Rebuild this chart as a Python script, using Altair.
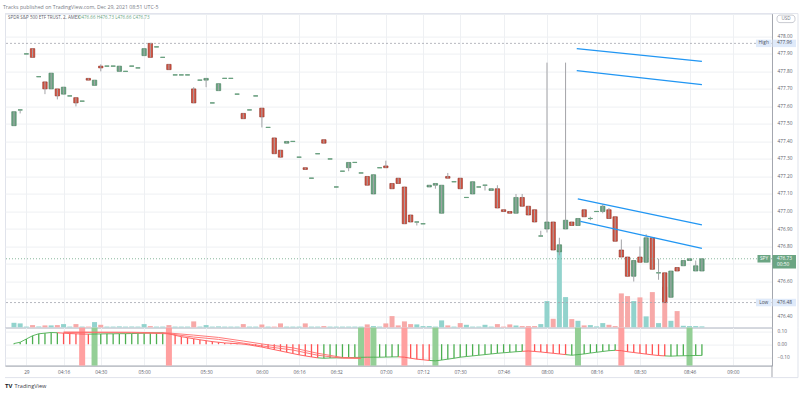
import altair as alt
import pandas as pd

# ---------------- data ----------------
opens = [477.49, 477.58, 477.90, 477.93, 477.77, 477.74, 477.70, 477.70, 477.67, 477.66,
         477.65, 477.63, 477.76, 477.72, 477.83, 477.83, 477.83, 477.80, 477.80, 477.83,
         477.82, 477.89, 477.96, 477.94, 477.88, 477.84, 477.78, 477.78, 477.78, 477.70,
         477.75, 477.75, 477.62, 477.69, 477.76, 477.76, 477.67, 477.56, 477.58, 477.66,
         477.59, 477.48, 477.42, 477.35, 477.39, 477.40, 477.31, 477.25, 477.19, 477.33,
         477.41, 477.30, 477.14, 477.23, 477.25, 477.28, 477.22, 477.20, 477.10, 477.25,
         477.26, 477.16, 477.19, 477.14, 476.98, 476.94, 476.93, 477.14, 477.15, 476.99,
         477.20, 477.17, 477.19, 477.08, 477.10, 477.14, 477.15, 477.12, 477.13, 477.01,
         477.00, 476.99, 477.08, 477.03, 477.01, 476.86, 476.90, 476.94, 476.77, 476.90,
         476.94, 476.92, 477.01, 476.96, 477.00, 477.00, 477.01, 476.97, 476.78, 476.74,
         476.63, 476.74, 476.71, 476.85, 476.65, 476.65, 476.51, 476.68, 476.69, 476.72,
         476.66, 476.66]
closes = [477.57, 477.58, 477.90, 477.88, 477.77, 477.70, 477.79, 477.66, 477.71, 477.66,
          477.62, 477.63, 477.75, 477.75, 477.82, 477.83, 477.83, 477.83, 477.80, 477.83,
          477.82, 477.93, 477.88, 477.94, 477.88, 477.81, 477.78, 477.78, 477.78, 477.62,
          477.75, 477.76, 477.62, 477.73, 477.76, 477.76, 477.67, 477.53, 477.58, 477.66,
          477.54, 477.48, 477.33, 477.31, 477.40, 477.40, 477.31, 477.24, 477.19, 477.33,
          477.39, 477.30, 477.14, 477.23, 477.28, 477.28, 477.22, 477.15, 477.21, 477.25,
          477.25, 477.13, 477.16, 476.93, 476.94, 476.94, 476.93, 477.15, 477.16, 477.15,
          477.19, 477.17, 477.13, 477.08, 477.17, 477.14, 477.15, 477.13, 477.02, 477.00,
          476.99, 477.08, 477.03, 476.98, 476.94, 476.86, 476.94, 476.78, 476.81, 476.95,
          476.92, 476.96, 476.97, 476.96, 477.00, 477.03, 476.96, 476.83, 476.74, 476.63,
          476.72, 476.71, 476.85, 476.67, 476.65, 476.48, 476.66, 476.66, 476.72, 476.73,
          476.69, 476.73]
wick_highs = {15: 477.84, 23: 477.96, 30: 477.71, 61: 477.29, 71: 477.22, 79: 477.15,
              82: 477.10, 83: 477.10, 86: 476.89, 87: 477.85, 89: 476.85, 90: 477.85,
              94: 476.97, 96: 477.04, 97: 477.02, 99: 476.84, 102: 476.80, 103: 476.87,
              105: 476.73, 111: 476.72}
wick_lows = {2: 477.56, 6: 477.67, 8: 477.64, 11: 477.60, 15: 477.80, 32: 477.71,
             41: 477.48, 55: 477.23, 66: 476.92, 69: 477.13, 77: 477.12, 87: 476.88,
             89: 476.75, 94: 476.95, 96: 476.99, 101: 476.60, 105: 476.61}
volumes = [4.8, 4.2, 1, 2.5, 1, 2.2, 2.2, 2.5, 3.5, 1,
           3.5, 1, 1, 5.5, 2.8, 1, 1, 1.2, 1, 1,
           1, 3.5, 1.5, 1, 1, 2.5, 1, 1, 1, 6.2,
           1, 2.5, 1, 1.2, 1, 1, 1, 3.5, 1, 1,
           3.2, 1, 1, 4.2, 1, 1, 1, 4.2, 1, 1,
           1.5, 1, 1, 1, 1, 1, 1, 3.2, 1.5, 1,
           4.2, 11.5, 2.2, 6.2, 3.5, 3.2, 1.5, 1.5, 1, 7.2,
           2.2, 1, 4.5, 2.8, 1, 1, 2.8, 1, 3.5, 1,
           3.2, 2, 1.5, 1.5, 1.5, 3.5, 26.5, 8.8, 77.5, 30.5,
           8.5, 6.8, 2.2, 2.5, 1.2, 4.5, 2.8, 1.5, 34.2, 31.5,
           26.5, 30.2, 11.2, 35.5, 4.5, 40.8, 6.8, 16.5, 1.8, 1.5,
           1.5, 1.2]
osc = [0.005, 0.015, 0.04, 0.065, 0.08, 0.085, 0.09, 0.088, 0.085, 0.082,
       0.08, 0.078, 0.077, 0.078, 0.079, 0.08, 0.08, 0.081, 0.081, 0.082,
       0.083, 0.085, 0.087, 0.087, 0.088, 0.08, 0.068, 0.058, 0.05, 0.042,
       0.034, 0.027, 0.02, 0.015, 0.01, 0.007, 0.004, 0.001, -0.006, -0.014,
       -0.022, -0.032, -0.042, -0.052, -0.062, -0.072, -0.082, -0.09, -0.098, -0.105,
       -0.108, -0.106, -0.105, -0.104, -0.103, -0.102, -0.101, -0.1, -0.1, -0.1,
       -0.099, -0.098, -0.097, -0.1, -0.108, -0.115, -0.12, -0.125, -0.128, -0.122,
       -0.115, -0.108, -0.1, -0.095, -0.09, -0.085, -0.08, -0.075, -0.07, -0.066,
       -0.062, -0.058, -0.055, -0.052, -0.056, -0.06, -0.065, -0.07, -0.075, -0.08,
       -0.085, -0.08, -0.075, -0.068, -0.062, -0.056, -0.05, -0.047, -0.05, -0.058,
       -0.064, -0.07, -0.076, -0.082, -0.087, -0.09, -0.092, -0.09, -0.089, -0.088,
       -0.087, -0.086]
osc_dir = ("GGGGGGGG" "RRRRR" "GGGGGGGGGGGG" "RRRRRRRRRRRRRRRRRRRRRRRRR"
           "GGGGGGGGGGGGG" "RRRRR" "GGGGGGGGGGGGGGG" "RRRRRRR" "GGGGGGGG"
           "RRRRRRRR" "GGGGGG")
signal_idx = [9, 14, 20, 26, 30, 34, 38, 42, 46, 50, 54, 57]
signal_a = [0.094, 0.093, 0.092, 0.086, 0.07, 0.052, 0.024, -0.005, -0.028, -0.07, -0.102, -0.106]
signal_b = [0.09, 0.089, 0.088, 0.08, 0.055, 0.037, 0.008, -0.02, -0.045, -0.085, -0.108, -0.11]
band_idx = [12, 14, 26, 57, 58, 59, 64, 69, 84, 92, 99, 110]
band_dir = ["R", "G", "R", "G", "R", "G", "R", "G", "R", "G", "R", "G"]
trend_x1 = [91.8, 91.8, 91.97, 92.4]
trend_x2 = [112.0, 112.0, 112.0, 112.0]
trend_p1 = [477.93, 477.804, 477.072, 476.944]
trend_p2 = [477.857, 477.724, 476.924, 476.79]
tick_idx = [3, 9, 15, 22, 32, 41, 47, 53, 61, 67, 73, 80, 87, 95, 102, 110, 117]
tick_lbl = ["29", "04:16", "04:30", "05:00", "05:30", "06:00", "06:16", "06:32", "07:00",
            "07:12", "07:30", "07:46", "08:00", "08:16", "08:30", "08:46", "09:00"]
price_ticks = [476.4, 476.5, 476.6, 476.7, 476.8, 476.9, 477.0, 477.1, 477.2, 477.3,
               477.4, 477.5, 477.6, 477.7, 477.8, 477.9, 478.0]
hidden_ticks = [476.5, 476.7]   # covered by the Low / SPY price tags
osc_ticks = [-0.1, 0.0, 0.1]
high_price, low_price, last_price = 477.96, 476.48, 476.73

# ---------------- frames ----------------
n = len(opens)
idx = list(range(1, n + 1))
df = pd.DataFrame({
    "idx": idx, "open": opens, "close": closes,
    "high": [max(o, c, wick_highs.get(i, o)) for i, o, c in zip(idx, opens, closes)],
    "low": [min(o, c, wick_lows.get(i, o)) for i, o, c in zip(idx, opens, closes)],
    "vol": volumes, "osc": osc, "dir": list(osc_dir),
})
sig = pd.DataFrame({"idx": signal_idx * 2, "v": signal_a + signal_b,
                    "s": ["a"] * len(signal_idx) + ["b"] * len(signal_idx)})
bands = pd.DataFrame({"idx": band_idx, "dir": band_dir})
trend = pd.DataFrame({"x1": trend_x1, "x2": trend_x2, "p1": trend_p1, "p2": trend_p2})
one = pd.DataFrame({"a": [0]})

W, HP, HO = 767, 314, 38
FONT = "Open Sans"
xs = alt.Scale(domain=[0.36, 122.5], nice=False, zero=False)
ps = alt.Scale(domain=[476.337, 478.13], nice=False, zero=False)
oscs = alt.Scale(domain=[-0.1646, 0.1277], nice=False, zero=False)
UP, DN = "#6ba583", "#d75442"
is_up = "datum.close >= datum.open"

hide_expr = " || ".join(f"abs(datum.value - {v}) < 0.001" for v in hidden_ticks)
PRICE_AXIS = alt.Axis(orient="right", values=price_ticks, labelPadding=5, ticks=False,
                      domain=True, grid=True, labelOverlap=False, labelFlush=False,
                      labelBound=False,
                      labelExpr=f"({hide_expr}) ? '' : format(datum.value, '.2f')")

X = alt.X("idx:Q", scale=xs, title=None,
          axis=alt.Axis(values=tick_idx, labels=False, ticks=False, domain=True,
                        domainColor="#a3a6af", grid=True))

# ---------------- price pane ----------------
vol = alt.Chart(df).mark_bar(size=5).encode(
    x=X, y=alt.Y("vol:Q", scale=alt.Scale(domain=[0, 314], nice=False), axis=None),
    color=alt.condition(is_up, alt.value("#92d3cd"), alt.value("#f7a9a8")))

levels = alt.Chart(pd.DataFrame({"p": [high_price, low_price]})).mark_rule(
    color="#a3a6af", strokeWidth=0.8, strokeDash=[2, 2]).encode(
    y=alt.Y("p:Q", scale=ps, title=None, axis=PRICE_AXIS))
lastline = alt.Chart(pd.DataFrame({"p": [last_price]})).mark_rule(
    color=UP, strokeWidth=0.8, strokeDash=[1, 2]).encode(
    y=alt.Y("p:Q", scale=ps, title=None, axis=PRICE_AXIS))

wicks = alt.Chart(df).mark_rule(color="#a4a4a8", strokeWidth=1).encode(
    x=alt.X("idx:Q", scale=xs, title=None),
    y=alt.Y("low:Q", scale=ps, title=None, axis=PRICE_AXIS), y2="high:Q")

bodies = alt.Chart(df).mark_bar(size=4.4, strokeWidth=0.6).encode(
    x=alt.X("idx:Q", scale=xs, title=None),
    y=alt.Y("open:Q", scale=ps, title=None, axis=PRICE_AXIS),
    y2="close:Q",
    fill=alt.condition(is_up, alt.value(UP), alt.value(DN)),
    stroke=alt.condition(is_up, alt.value("#3f7a58"), alt.value("#8a2a1e")))

dojis = alt.Chart(df).transform_filter("datum.open == datum.close").mark_tick(
    orient="horizontal", size=4.4, thickness=1.2, opacity=0.75, color=UP).encode(
    x=alt.X("idx:Q", scale=xs, title=None),
    y=alt.Y("close:Q", scale=ps, title=None, axis=PRICE_AXIS))

trendlines = alt.Chart(trend).mark_rule(color="#2196f3", strokeWidth=1.3).encode(
    x=alt.X("x1:Q", scale=xs, title=None), x2="x2:Q",
    y=alt.Y("p1:Q", scale=ps, title=None, axis=PRICE_AXIS), y2="p2:Q")


def box(price, x1, x2, fill, h=7.5, yoff=0):
    return alt.Chart(pd.DataFrame({"p": [price]})).mark_rect(
        fill=fill, height=h, yOffset=yoff).encode(
        x=alt.value(x1), x2=alt.value(x2),
        y=alt.Y("p:Q", scale=ps, title=None, axis=PRICE_AXIS))


def label(price, x, txt, color, align="left", dy=0):
    return alt.Chart(pd.DataFrame({"p": [price]})).mark_text(
        text=txt, align=align, baseline="middle", fontSize=4.8, font=FONT,
        color=color, dy=dy).encode(
        x=alt.value(x), y=alt.Y("p:Q", scale=ps, title=None, axis=PRICE_AXIS))


LB = "#dfeafa"
tags = [
    box(high_price, 751, 766.5, LB), box(high_price, 767.5, 791, LB),
    label(high_price, 758.7, "High", "#4a4e5a", align="center"),
    label(high_price, 772, f"{high_price:.2f}", "#4a4e5a"),
    box(low_price, 751, 766.5, LB), box(low_price, 767.5, 791, LB),
    label(low_price, 758.7, "Low", "#4a4e5a", align="center"),
    label(low_price, 772, f"{low_price:.2f}", "#4a4e5a"),
    box(last_price, 752.5, 765.5, UP), box(last_price, 767.5, 791, UP, h=13.5, yoff=3),
    label(last_price, 759, "SPY", "white", align="center"),
    label(last_price, 772, f"{last_price:.2f}", "white"),
    label(last_price, 772, "00:50", "white", dy=6.3),
]

usd_box = alt.Chart(one).mark_rect(fill="white", stroke="#b2b5be", strokeWidth=0.7,
                                   cornerRadius=3).encode(
    x=alt.value(772), x2=alt.value(790), y=alt.value(1.5), y2=alt.value(9))
usd_txt = alt.Chart(one).mark_text(text="USD", fontSize=4.6, font=FONT, color="#787b86",
                                   align="center", baseline="middle").encode(
    x=alt.value(781), y=alt.value(5.3))

header = alt.Chart(one).mark_text(
    text="Tracks published on TradingView.com, Dec 29, 2021 08:51 UTC-5",
    fontSize=5.2, font=FONT, color="#787b86", align="left", baseline="middle").encode(
    x=alt.value(-2), y=alt.value(-7))
symbol = alt.Chart(one).mark_text(
    text="SPDR S&P 500 ETF TRUST, 2, AMEX", fontSize=4.5, font=FONT, color="#5d606b",
    align="left", baseline="middle").encode(x=alt.value(3), y=alt.value(4.3))
ohlc = alt.Chart(one).mark_text(
    text="O476.66  H476.73  L476.66  C476.73", fontSize=4.5, font=FONT, color=UP,
    align="left", baseline="middle").encode(x=alt.value(73), y=alt.value(4.3))

frame_p = alt.Chart(one).mark_rule(color="#e0e3eb", strokeWidth=1).encode(
    x=alt.value(0), x2=alt.value(793), y=alt.value(0))
frame_pr = alt.Chart(one).mark_rule(color="#e0e3eb", strokeWidth=1).encode(
    x=alt.value(793), y=alt.value(0), y2=alt.value(HP))

price_group = alt.layer(bodies, levels, lastline, wicks, dojis, trendlines, *tags,
                        usd_box, usd_txt, header, symbol, ohlc, frame_p, frame_pr)
price = alt.layer(vol, price_group).resolve_scale(y="independent").properties(
    width=W, height=HP)

# ---------------- oscillator pane ----------------
XO = alt.X("idx:Q", scale=xs, title=None,
           axis=alt.Axis(values=tick_idx, ticks=False, domain=True, domainColor="#a3a6af",
                         grid=True, labelPadding=3.5, labelOverlap=False, labelFlush=False,
                         labelExpr=f"{tick_lbl}[indexof({tick_idx}, datum.value)]"))
OSC_AXIS = alt.Axis(orient="right", values=osc_ticks, format=".2f", labelPadding=5,
                    ticks=False, domain=True, grid=True, labelOverlap=False,
                    labelFlush=False, labelBound=False)
is_g = "datum.dir == 'G'"

band_layer = alt.Chart(bands).mark_bar(size=6).encode(
    x=XO, y=alt.value(0), y2=alt.value(HO),
    color=alt.condition(is_g, alt.value("#94cf96"), alt.value("#ffa0a0")))

hist = alt.Chart(df).mark_rule(strokeWidth=1.3).encode(
    x=alt.X("idx:Q", scale=xs, title=None),
    y=alt.Y("osc:Q", scale=oscs, title=None, axis=OSC_AXIS),
    y2=alt.datum(0),
    color=alt.condition(is_g, alt.value("#4caf50"), alt.value("#ff5252")))

segs = alt.Chart(df).transform_window(
    prev_osc="lag(osc)", prev_idx="lag(idx)", sort=[alt.SortField("idx")]
).transform_filter("datum.prev_idx != null").mark_rule(strokeWidth=0.9).encode(
    x=alt.X("prev_idx:Q", scale=xs, title=None), x2="idx:Q",
    y=alt.Y("prev_osc:Q", scale=oscs, title=None, axis=OSC_AXIS), y2="osc:Q",
    color=alt.condition(is_g, alt.value("#4caf50"), alt.value("#ff5252")))

sig_lines = alt.Chart(sig).mark_line(color="#ff6b6b", strokeWidth=0.9).encode(
    x=alt.X("idx:Q", scale=xs, title=None),
    y=alt.Y("v:Q", scale=oscs, title=None, axis=OSC_AXIS), detail="s:N")

axis_ext = alt.Chart(one).mark_rule(color="#a3a6af", strokeWidth=1).encode(
    x=alt.value(W), y=alt.value(HO), y2=alt.value(50))
frame_b = alt.Chart(one).mark_rule(color="#e0e3eb", strokeWidth=1).encode(
    x=alt.value(0), x2=alt.value(793), y=alt.value(50))
frame_or = alt.Chart(one).mark_rule(color="#e0e3eb", strokeWidth=1).encode(
    x=alt.value(793), y=alt.value(0), y2=alt.value(50))
tv_logo = alt.Chart(one).mark_text(text="TV", fontSize=6, font=FONT, fontWeight="bold",
                                   color="#131722", align="left", baseline="middle").encode(
    x=alt.value(0), y=alt.value(58))
tv_text = alt.Chart(one).mark_text(text="TradingView", fontSize=5.6, font=FONT,
                                   color="#3a3d46", align="left", baseline="middle").encode(
    x=alt.value(9.5), y=alt.value(58))

oscillator = alt.layer(hist, band_layer, segs, sig_lines, axis_ext, frame_b, frame_or,
                       tv_logo, tv_text).properties(width=W, height=HO)

chart = alt.vconcat(price, oscillator, spacing=0, bounds="flush").properties(
    padding={"left": 2, "top": 3.6, "right": 0, "bottom": 0}, background="white"
).configure_view(stroke="#e0e3eb", strokeWidth=1).configure_axis(
    labelFont=FONT, labelFontSize=4.8, labelColor="#5d606b", gridColor="#eef0f3",
    gridWidth=1, domainColor="#a3a6af", domainWidth=1, labelOverlap=False)

chart.save("out.html", embed_options={"renderer": "svg", "actions": False})
